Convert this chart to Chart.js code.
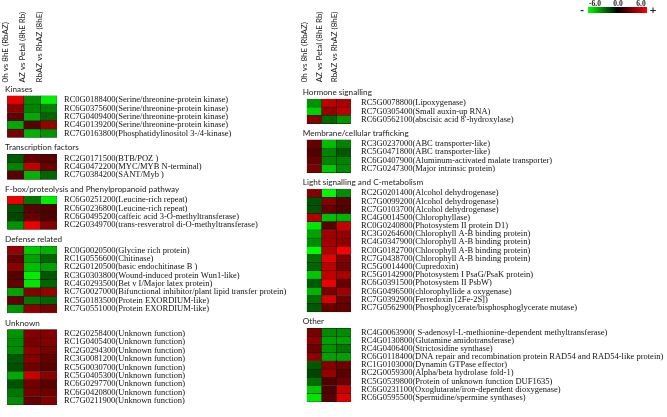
<!DOCTYPE html>
<html>
<head>
<meta charset="utf-8">
<script src="https://cdn.jsdelivr.net/npm/chart.js@4.4.1/dist/chart.umd.min.js"></script>
<style>
  body { margin: 0; background: #fff; }
  #leftBox { position: absolute; left: 0; top: 0; }
  #rightBox { position: absolute; left: 295px; top: 0; }
</style>
</head>
<body>
<div id="leftBox"><canvas id="leftChart" width="295" height="417"></canvas></div>
<div id="rightBox"><canvas id="rightChart" width="372" height="417"></canvas></div>
<script>
// columnas (comparaciones)
const columns = ['0h vs 8hE (RbAZ)', 'AZ vs Petal (8hE Rb)', 'RbAZ vs RhAZ (8hE)'];
const scaleTicks = [-6.0, 0.0, 6.0];

// panel izquierdo
const kinasesGenes = ['RC0G0188400(Serine/threonine-protein kinase)', 'RC6G0375600(Serine/threonine-protein kinase)', 'RC7G0409400(Serine/threonine-protein kinase)', 'RC4G0139200(Serine/threonine-protein kinase)', 'RC7G0163800(Phosphatidylinositol 3-/4-kinase)'];
const kinasesValues = [[5.4, -3.3, -5.6], [3.3, -3.1, -3.1], [2.4, -4.0, -2.4], [-4.0, 2.1, 3.5], [2.8, -4.2, -3.5]];

const tfGenes = ['RC2G0171500(BTB/POZ )', 'RC4G0472200(MYC/MYB N-terminal)', 'RC7G0384200(SANT/Myb )'];
const tfValues = [[-2.1, 2.4, 2.1], [-3.1, 4.5, 2.6], [2.1, -4.2, -2.4]];

const fboxGenes = ['RC6G0251200(Leucine-rich repeat)', 'RC6G0236800(Leucine-rich repeat)', 'RC6G0495200(caffeic acid 3-O-methyltransferase)', 'RC2G0349700(trans-resveratrol di-O-methyltransferase)'];
const fboxValues = [[5.6, -2.8, -5.6], [-1.9, 2.1, 1.9], [-1.7, 2.4, 1.9], [-3.5, 5.6, 3.1]];

const defenseGenes = ['RC0G0020500(Glycine rich protein)', 'RC1G0556600(Chitinase)', 'RC2G0120500(basic endochitinase B )', 'RC3G0303800(Wound-induced protein Wun1-like)', 'RC4G0293500(Bet v I/Major latex protein)', 'RC7G0027000(Bifunctional inhibitor/plant lipid transfer protein)', 'RC5G0183500(Protein EXORDIUM-like)', 'RC7G0551000(Protein EXORDIUM-like)'];
const defenseValues = [[3.5, -4.7, -4.2], [2.4, -3.8, -2.4], [3.3, -4.5, -3.8], [2.1, -5.6, -2.1], [2.4, -5.4, -2.4], [-3.8, 3.1, 3.5], [2.4, -2.8, -2.4], [-3.5, 3.3, 2.8]];

const unknownGenes = ['RC2G0258400(Unknown function)', 'RC1G0405400(Unknown function)', 'RC2G0294300(Unknown function)', 'RC3G0081200(Unknown function)', 'RC5G0030700(Unknown function)', 'RC5G0405300(Unknown function)', 'RC6G0297700(Unknown function)', 'RC6G0420800(Unknown function)', 'RC7G0211900(Unknown function)'];
const unknownValues = [[-3.5, 3.1, 3.1], [-3.3, 2.8, 3.1], [-3.3, 3.3, 2.8], [-2.1, 3.1, 2.4], [-1.9, 2.6, 2.1], [-4.0, 4.7, 3.3], [-1.9, 2.6, 2.1], [-2.8, 2.8, 2.6], [-3.3, 2.4, 3.1]];

// panel derecho
const hormoneGenes = ['RC5G0078800(Lipoxygenase)', 'RC7G0305400(Small auxin-up RNA)', "RC6G0562100(abscisic acid 8'-hydroxylase)"];
const hormoneValues = [[-3.5, 4.5, 4.0], [-4.9, 3.5, 4.5], [3.1, -2.4, -3.5]];

const membraneGenes = ['RC3G0237000(ABC transporter-like)', 'RC5G0471800(ABC transporter-like)', 'RC6G0407900(Aluminum-activated malate transporter)', 'RC7G0247300(Major intrinsic protein)'];
const membraneValues = [[2.4, -4.5, -3.1], [1.9, -3.1, -2.1], [2.4, -3.1, -3.1], [2.8, -4.7, -3.3]];

const lightGenes = ['RC2G0201400(Alcohol dehydrogenase)', 'RC7G0099200(Alcohol dehydrogenase)', 'RC7G0103700(Alcohol dehydrogenase)', 'RC4G0014500(Chlorophyllase)', 'RC0G0240800(Photosystem II protein D1)', 'RC3G0264600(Chlorophyll A-B binding protein)', 'RC4G0347900(Chlorophyll A-B binding protein)', 'RC0G0182700(Chlorophyll A-B binding protein)', 'RC7G0438700(Chlorophyll A-B binding protein)', 'RC5G0014400(Cupredoxin)', 'RC5G0142900(Photosystem I PsaG/PsaK protein)', 'RC6G0391500(Photosystem II PsbW)', 'RC6G0496500(chlorophyllide a oxygenase)', 'RC7G0392900(Ferredoxin [2Fe-2S])', 'RC7G0562900(Phosphoglycerate/bisphosphoglycerate mutase)'];
const lightValues = [[3.1, -5.8, -3.3], [-1.9, 3.1, 2.1], [-1.9, 2.4, 1.9], [4.2, -4.5, -4.2], [-5.4, 2.1, 4.7], [-3.8, 3.8, 3.5], [-3.3, 3.8, 3.3], [-5.9, 4.2, 5.9], [-2.6, 5.4, 3.1], [-2.4, 4.5, 2.8], [-4.7, 4.5, 4.0], [-2.1, 5.6, 2.4], [-4.2, 2.8, 3.8], [-2.6, 5.2, 2.6], [-2.1, 2.4, 2.4]];

const otherGenes = ['RC4G0063900( S-adenosyl-L-methionine-dependent methyltransferase)', 'RC4G0130800(Glutamine amidotransferase)', 'RC4G0406400(Strictosidine synthase)', 'RC6G0118400(DNA repair and recombination protein RAD54 and RAD54-like protein)', 'RC1G0103000(Dynamin GTPase effector)', 'RC2G0059300(Alpha/beta hydrolase fold-1)', 'RC5G0539800(Protein of unknown function DUF1635)', 'RC6G0231100(Oxoglutarate/iron-dependent dioxygenase)', 'RC6G0595500(Spermidine/spermine synthases)'];
const otherValues = [[2.8, -3.3, -3.3], [3.3, -3.8, -3.8], [2.6, -3.5, -2.8], [3.3, -3.8, -3.8], [-2.1, 3.1, 2.6], [-1.6, 3.5, 2.1], [-2.6, 1.9, 2.6], [-4.7, 1.9, 4.7], [-5.4, 2.1, 5.2]];

const leftGroups = [
    ['Kinases', kinasesGenes, kinasesValues],
    ['Transcription factors', tfGenes, tfValues],
    ['F-box/proteolysis and Phenylpropanoid pathway', fboxGenes, fboxValues],
    ['Defense related', defenseGenes, defenseValues],
    ['Unknown', unknownGenes, unknownValues]
];
const rightGroups = [
    ['Hormone signalling', hormoneGenes, hormoneValues],
    ['Membrane/cellular trafficking', membraneGenes, membraneValues],
    ['Light signalling and C-metabolism', lightGenes, lightValues],
    ['Other', otherGenes, otherValues]
];

// verde (-6) -> negro (0) -> rojo (+6)
function heatColor(v) {
    const t = Math.min(Math.abs(v) / 6, 1);
    const c = Math.round(255 * t);
    return v >= 0 ? `rgb(${c},0,0)` : `rgb(0,${c},0)`;
}

// filas: una vacía arriba, dos vacías entre grupos (para los títulos)
function buildRows(groups) {
    const labels = [''];
    const values = [null];
    const titles = [];
    groups.forEach((g, gi) => {
        if (gi > 0) {
            labels.push('', '');
            values.push(null, null);
        }
        titles.push({ text: g[0], first: labels.length });
        g[1].forEach((name, i) => {
            labels.push(name);
            values.push(g[2][i]);
        });
    });
    return { labels, values, titles };
}

function titlePlugin(titles, dx) {
    return {
        id: 'groupTitles',
        afterDraw(chart) {
            const ctx = chart.ctx;
            const y = chart.scales.y;
            const rowH = y.height / y.getLabels().length;
            ctx.save();
            ctx.font = '8.2px Lato';
            ctx.fillStyle = '#222';
            ctx.textBaseline = 'middle';
            ctx.textAlign = 'left';
            titles.forEach(t => {
                const top = y.getPixelForValue(t.first) - rowH / 2;
                ctx.fillText(t.text, chart.chartArea.left + dx, top - 6.5);
            });
            ctx.restore();
        }
    };
}

const legendPlugin = {
    id: 'colorKey',
    afterDraw(chart) {
        const ctx = chart.ctx;
        const x0 = 293, y0 = 7, w = 59, h = 6;
        ctx.save();
        const grad = ctx.createLinearGradient(x0, 0, x0 + w, 0);
        grad.addColorStop(0, heatColor(scaleTicks[0]));
        grad.addColorStop(0.5, heatColor(scaleTicks[1]));
        grad.addColorStop(1, heatColor(scaleTicks[2]));
        ctx.fillStyle = grad;
        ctx.fillRect(x0, y0, w, h);
        ctx.fillStyle = '#222';
        ctx.font = 'bold 7.5px "Liberation Serif"';
        ctx.textAlign = 'center';
        ctx.textBaseline = 'bottom';
        const min = scaleTicks[0], max = scaleTicks[scaleTicks.length - 1];
        scaleTicks.forEach(v => {
            const px = x0 + 7 + (v - min) / (max - min) * (w - 13);
            ctx.fillText(v.toFixed(1), px, y0 + 0.5);
        });
        ctx.font = 'bold 9px "DejaVu Sans"';
        ctx.textBaseline = 'middle';
        ctx.fillText('-', x0 - 6, y0 + 4);
        ctx.fillText('+', x0 + w + 6, y0 + 4);
        ctx.restore();
    }
};

function makeHeatmap(canvasId, groups, opt) {
    const rows = buildRows(groups);
    const datasets = columns.map((col, j) => ({
        label: col,
        data: rows.values.map(v => v ? [j, j + 1] : null),
        backgroundColor: rows.values.map(v => v ? heatColor(v[j]) : 'rgba(0,0,0,0)'),
        borderColor: '#151515',
        borderWidth: 0.5,
        borderSkipped: false,
        grouped: false,
        categoryPercentage: 1,
        barPercentage: 1
    }));
    const plugins = [titlePlugin(rows.titles, opt.titleDx)];
    if (opt.legend) plugins.push(legendPlugin);

    return new Chart(document.getElementById(canvasId).getContext('2d'), {
        type: 'bar',
        data: { labels: rows.labels, datasets: datasets },
        options: {
            indexAxis: 'y',
            responsive: false,
            animation: false,
            layout: { padding: { left: opt.left, top: 0, right: 0, bottom: opt.bottom } },
            plugins: {
                legend: { display: false },
                tooltip: { enabled: false }
            },
            scales: {
                x: {
                    type: 'linear',
                    position: 'top',
                    min: 0,
                    max: columns.length,
                    grid: { display: false, drawTicks: false },
                    border: { display: false },
                    afterBuildTicks: s => { s.ticks = columns.map((c, i) => ({ value: i + 0.5 })); },
                    afterFit: s => { s.height = opt.top; },
                    ticks: {
                        autoSkip: false,
                        minRotation: 90,
                        maxRotation: 90,
                        padding: opt.headPad,
                        color: '#222',
                        font: { family: 'Lato', size: 8 },
                        callback: (v, i) => columns[i]
                    }
                },
                y: {
                    type: 'category',
                    position: 'right',
                    grid: { display: false, drawTicks: false },
                    border: { display: false },
                    afterFit: s => { s.width = opt.labelWidth; },
                    ticks: {
                        autoSkip: false,
                        padding: opt.labelPad,
                        color: '#111',
                        font: { family: 'Liberation Serif', size: 8.5 }
                    }
                }
            }
        },
        plugins: plugins
    });
}

window.addEventListener('DOMContentLoaded', function () {
    makeHeatmap('leftChart', leftGroups, { left: 5, top: 87.4, bottom: 3, headPad: 5, labelWidth: 238, labelPad: 7, titleDx: -2 });
    makeHeatmap('rightChart', rightGroups, { left: 6, top: 90.8, bottom: 5, headPad: 8.5, labelWidth: 316, labelPad: 10, titleDx: -4, legend: true });
});
</script>
</body>
</html>
